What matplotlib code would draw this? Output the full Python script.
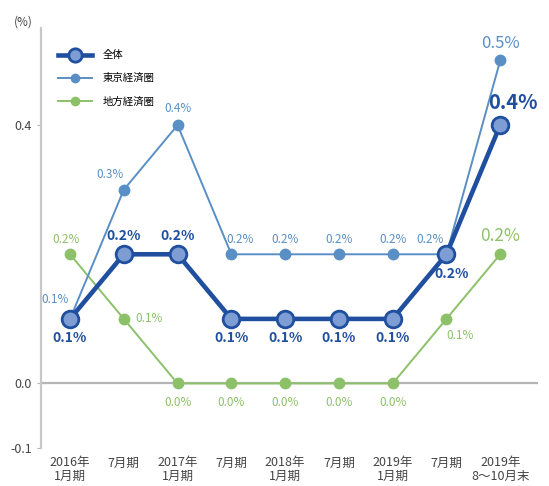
import matplotlib.pyplot as plt
import numpy as np

plt.rcParams["font.family"] = ["Noto Sans CJK JP", "DejaVu Sans"]

# 期間ラベルと系列値 (%)
periods = ["2016年\n1月期", "7月期", "2017年\n1月期", "7月期", "2018年\n1月期",
           "7月期", "2019年\n1月期", "7月期", "2019年\n8～10月末"]
total = [0.1, 0.2, 0.2, 0.1, 0.1, 0.1, 0.1, 0.2, 0.4]
tokyo = [0.1, 0.3, 0.4, 0.2, 0.2, 0.2, 0.2, 0.2, 0.5]
local = [0.2, 0.1, 0.0, 0.0, 0.0, 0.0, 0.0, 0.1, 0.2]

C_TOTAL = "#1f4f9e"
C_TOTAL_FACE = "#7d9dd4"
C_TOKYO = "#5a8fc6"
C_LOCAL = "#8cc169"

# ラベルのずらし (ポイント単位)
total_off = [(0, -14), (0, 13), (0, 13), (0, -14), (0, -14), (0, -14), (0, -14), (4, -14), (9, 16)]
tokyo_off = [(-11, 14), (-10, 11), (0, 12), (6, 11), (0, 11), (0, 11), (0, 11), (-12, 11), (0, 12)]
local_off = [(-3, 11), (18, 0), (0, -14), (0, -14), (0, -14), (0, -14), (0, -14), (10, -12), (0, 13)]

fig = plt.figure(figsize=(5.49, 4.86), dpi=100)
ax = fig.add_axes([0.0747, 0.078, 0.905, 0.864])
x = np.arange(len(periods))

ax.axhline(0, color="#b5b5b5", linewidth=1.6, zorder=1)

ax.plot(x, local, color=C_LOCAL, linewidth=1.4, marker="o", markersize=7.5,
        label="地方経済圏", zorder=2)
ax.plot(x, tokyo, color=C_TOKYO, linewidth=1.4, marker="o", markersize=7.5,
        label="東京経済圏", zorder=3)
ax.plot(x, total, color=C_TOTAL, linewidth=3.3, marker="o", markersize=12,
        markerfacecolor=C_TOTAL_FACE, markeredgecolor=C_TOTAL, markeredgewidth=2,
        label="全体", zorder=4)

last = len(periods) - 1
for i in x:
    big = i == last
    ax.annotate(f"{total[i]:.1f}%", (i, total[i]), xytext=total_off[i],
                textcoords="offset points", ha="center", va="center",
                color=C_TOTAL, fontweight="bold", fontsize=14.5 if big else 10, zorder=6)
    ax.annotate(f"{tokyo[i]:.1f}%", (i, tokyo[i]), xytext=tokyo_off[i],
                textcoords="offset points", ha="center", va="center",
                color=C_TOKYO, fontsize=12 if big else 8.5, zorder=5)
    ax.annotate(f"{local[i]:.1f}%", (i, local[i]), xytext=local_off[i],
                textcoords="offset points", ha="center", va="center",
                color=C_LOCAL, fontsize=12.5 if big else 8.5, zorder=5)

ax.set_xlim(-0.54, 8.7)
ax.set_ylim(-0.1, 0.55)
ax.set_yticks([-0.1, 0.0, 0.4])
ax.set_yticklabels(["-0.1", "0.0", "0.4"])
ax.set_xticks(x)
ax.set_xticklabels(periods, fontsize=9, color="#444444", linespacing=1.05)
ax.tick_params(axis="x", length=0, pad=6)
ax.tick_params(axis="y", length=3, color="#b5b5b5", labelsize=9, labelcolor="#444444")

for side in ["top", "right", "bottom"]:
    ax.spines[side].set_visible(False)
ax.spines["left"].set_color("#c8c8c8")
ax.spines["left"].set_linewidth(1.6)

fig.text(0.025, 0.955, "(%)", fontsize=8.5, color="#444444", va="center")

handles, labels = ax.get_legend_handles_labels()
ax.legend(handles[::-1], labels[::-1], loc="upper left", bbox_to_anchor=(0.015, 0.97),
          frameon=False, fontsize=7.5, handlelength=3.3, labelspacing=1.25,
          handletextpad=1.0, markerscale=0.8)

fig.savefig("out.png", dpi=100)
